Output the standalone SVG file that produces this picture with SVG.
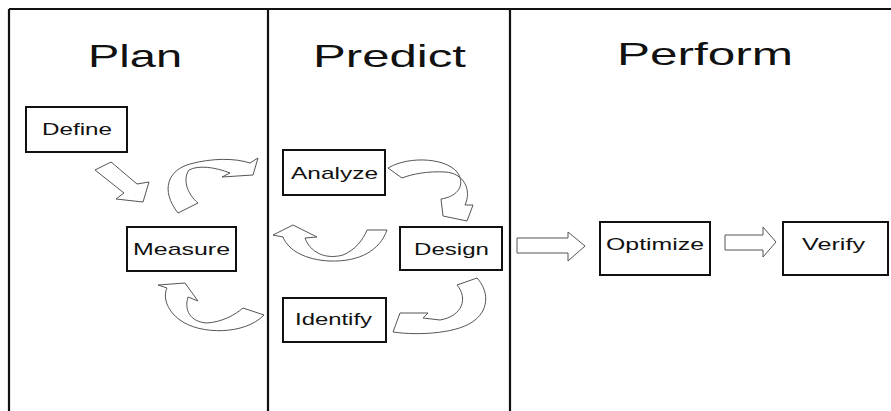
<svg xmlns="http://www.w3.org/2000/svg" width="891" height="411" viewBox="0 0 891 411">
<style>
.frame{stroke:#111;stroke-width:2.2;fill:none}
.box{fill:#fff;stroke:#111;stroke-width:2}
.lbl{font-family:"Liberation Sans",Arial,sans-serif;font-size:17px;fill:#111;text-anchor:start}
.ttl{font-family:"Liberation Sans",Arial,sans-serif;font-size:32px;fill:#111}
.arr{fill:#fff;stroke:#555;stroke-width:1;stroke-linejoin:miter}
</style>
<rect width="891" height="411" fill="#fff"/>
<g id="frame">
<line class="frame" x1="9" y1="9" x2="891" y2="9"/>
<line class="frame" x1="9" y1="9" x2="9" y2="411"/>
<line class="frame" x1="268" y1="9" x2="268" y2="411"/>
<line class="frame" x1="510" y1="9" x2="510" y2="411"/>
</g>
<g id="titles">
<text class="ttl" x="88" y="67" textLength="94" lengthAdjust="spacingAndGlyphs">Plan</text>
<text class="ttl" x="313" y="67" textLength="153" lengthAdjust="spacingAndGlyphs">Predict</text>
<text class="ttl" x="617" y="65" textLength="176" lengthAdjust="spacingAndGlyphs">Perform</text>
</g>
<g id="connectors">
<polygon class="arr" points="95,170 111,162 137,184 149,182 143,202 116,199 124,193"/>
<path class="arr" d="M178,213 C160,190 168,170 190,164 C212,158 235,158 250,163 L258,158 L253,175 L222,177 L230,173 C215,167 198,165 189,170 C182,180 188,195 198,203 Z"/>
<path class="arr" d="M264,315 C245,335 200,335 180,320 C166,310 163,296 167,288 L158,285 L185,283 L198,301 L188,297 C184,310 190,322 207,323 C222,322 235,315 243,308 Z"/>
<path class="arr" d="M388,168 C410,155 450,158 459,175 C465,188 455,197 441,199 L443,216 L467,221 L473,205 L465,205 C472,190 464,173 445,172 C428,171 412,174 402,178 Z"/>
<path class="arr" d="M387,230 C380,250 360,262 330,261 C305,260 288,250 283,237 L273,235 L293,225 L317,237 L305,238 C310,252 325,260 343,255 C355,250 363,240 367,230 Z"/>
<path class="arr" d="M457,285 C468,298 463,316 440,320 L423,318 L428,313 L400,313 L393,332 C420,336 460,333 475,320 C490,308 488,290 477,278 Z"/>
<polygon class="arr" points="517,238 568,238 568,232 585,246 568,261 568,253 517,253"/>
<polygon class="arr" points="725,235 763,235 763,227 776,242 763,257 763,250 725,250"/>
</g>
<g id="define">
<rect class="box" x="26" y="107" width="101" height="45"/>
<text class="lbl" x="42" y="135" textLength="70" lengthAdjust="spacingAndGlyphs">Define</text>
</g>
<g id="measure">
<rect class="box" x="127" y="227" width="109" height="44"/>
<text class="lbl" x="133" y="255" textLength="97" lengthAdjust="spacingAndGlyphs">Measure</text>
</g>
<g id="analyze">
<rect class="box" x="283" y="150" width="102" height="45"/>
<text class="lbl" x="291" y="179" textLength="87" lengthAdjust="spacingAndGlyphs">Analyze</text>
</g>
<g id="design">
<rect class="box" x="400" y="227" width="102" height="43"/>
<text class="lbl" x="414" y="255" textLength="75" lengthAdjust="spacingAndGlyphs">Design</text>
</g>
<g id="identify">
<rect class="box" x="283" y="298" width="103" height="44"/>
<text class="lbl" x="295" y="325" textLength="77" lengthAdjust="spacingAndGlyphs">Identify</text>
</g>
<g id="optimize">
<rect class="box" x="600" y="222" width="110" height="53"/>
<text class="lbl" x="606" y="250" textLength="98" lengthAdjust="spacingAndGlyphs">Optimize</text>
</g>
<g id="verify">
<rect class="box" x="783" y="222" width="105" height="53"/>
<text class="lbl" x="802" y="250" textLength="63" lengthAdjust="spacingAndGlyphs">Verify</text>
</g>
</svg>
